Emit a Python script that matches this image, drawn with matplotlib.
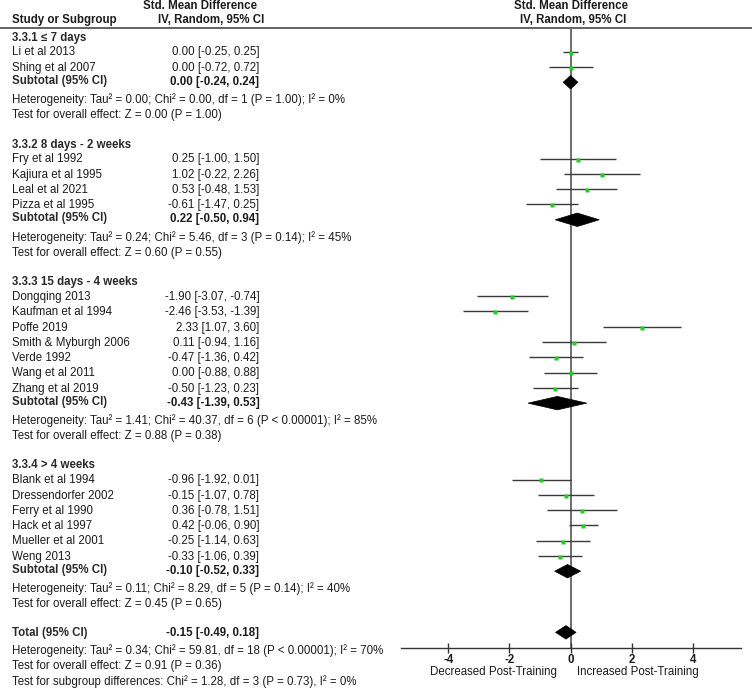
import matplotlib
matplotlib.use("Agg")
import matplotlib.pyplot as plt
from matplotlib.patches import Polygon

plt.rcParams['font.family'] = ['Liberation Sans', 'DejaVu Sans']

# ---------------- data ----------------
group_titles = ["3.3.1 \u2264 7 days", "3.3.2 8 days - 2 weeks",
                "3.3.3 15 days - 4 weeks", "3.3.4 > 4 weeks"]

g1_studies = ["Li et al 2013", "Shing et al 2007"]
g1_smd = [0.00, 0.00]
g1_lo = [-0.25, -0.72]
g1_hi = [0.25, 0.72]

g2_studies = ["Fry et al 1992", "Kajiura et al 1995", "Leal et al 2021", "Pizza et al 1995"]
g2_smd = [0.25, 1.02, 0.53, -0.61]
g2_lo = [-1.00, -0.22, -0.48, -1.47]
g2_hi = [1.50, 2.26, 1.53, 0.25]

g3_studies = ["Dongqing 2013", "Kaufman et al 1994", "Poffe 2019", "Smith & Myburgh 2006",
              "Verde 1992", "Wang et al 2011", "Zhang et al 2019"]
g3_smd = [-1.90, -2.46, 2.33, 0.11, -0.47, 0.00, -0.50]
g3_lo = [-3.07, -3.53, 1.07, -0.94, -1.36, -0.88, -1.23]
g3_hi = [-0.74, -1.39, 3.60, 1.16, 0.42, 0.88, 0.23]

g4_studies = ["Blank et al 1994", "Dressendorfer 2002", "Ferry et al 1990", "Hack et al 1997",
              "Mueller et al 2001", "Weng 2013"]
g4_smd = [-0.96, -0.15, 0.36, 0.42, -0.25, -0.33]
g4_lo = [-1.92, -1.07, -0.78, -0.06, -1.14, -1.06]
g4_hi = [0.01, 0.78, 1.51, 0.90, 0.63, 0.39]

sub_smd = [0.00, 0.22, -0.43, -0.10]
sub_lo = [-0.24, -0.50, -1.39, -0.52]
sub_hi = [0.24, 0.94, 0.53, 0.33]

heterogeneity = [
    "Heterogeneity: Tau\u00b2 = 0.00; Chi\u00b2 = 0.00, df = 1 (P = 1.00); I\u00b2 = 0%",
    "Heterogeneity: Tau\u00b2 = 0.24; Chi\u00b2 = 5.46, df = 3 (P = 0.14); I\u00b2 = 45%",
    "Heterogeneity: Tau\u00b2 = 1.41; Chi\u00b2 = 40.37, df = 6 (P < 0.00001); I\u00b2 = 85%",
    "Heterogeneity: Tau\u00b2 = 0.11; Chi\u00b2 = 8.29, df = 5 (P = 0.14); I\u00b2 = 40%",
]
overall = [
    "Test for overall effect: Z = 0.00 (P = 1.00)",
    "Test for overall effect: Z = 0.60 (P = 0.55)",
    "Test for overall effect: Z = 0.88 (P = 0.38)",
    "Test for overall effect: Z = 0.45 (P = 0.65)",
]

total_smd = -0.15
total_lo = -0.49
total_hi = 0.18
total_texts = [
    "Heterogeneity: Tau\u00b2 = 0.34; Chi\u00b2 = 59.81, df = 18 (P < 0.00001); I\u00b2 = 70%",
    "Test for overall effect: Z = 0.91 (P = 0.36)",
    "Test for subgroup differences: Chi\u00b2 = 1.28, df = 3 (P = 0.73), I\u00b2 = 0%",
]

xticks = [-4, -2, 0, 2, 4]
left_label = "Decreased Post-Training"
right_label = "Increased Post-Training"

groups = [
    (g1_studies, g1_smd, g1_lo, g1_hi),
    (g2_studies, g2_smd, g2_lo, g2_hi),
    (g3_studies, g3_smd, g3_lo, g3_hi),
    (g4_studies, g4_smd, g4_lo, g4_hi),
]

# ---------------- layout ----------------
W, H = 754, 688
ROW0, STEP = 51.7, 15.28          # pixel position of first study row, row pitch
def row_of(px):
    return (px - ROW0) / STEP

ytop, ybot = row_of(0), row_of(H)
FS = 8.3
TXT = '#1c1c1c'
NAME_X = 12
VAL_X = 259.5

fig = plt.figure(figsize=(W / 100, H / 100), dpi=100)
ax_t = fig.add_axes([0, 0, 1, 1])
ax_t.set_xlim(0, W)
ax_t.set_ylim(ybot, ytop)
ax_t.axis('off')

ax_f = fig.add_axes([400.7 / W, 0, (741 - 400.7) / W, 1])
ax_f.set_xlim(-5.55, 5.57)
ax_f.set_ylim(ybot, ytop)
ax_f.patch.set_alpha(0)
for s in ['top', 'left', 'right']:
    ax_f.spines[s].set_visible(False)
axis_row = row_of(647.7)
ax_f.spines['bottom'].set_position(('data', axis_row))
ax_f.spines['bottom'].set_color('#333333')
ax_f.spines['bottom'].set_linewidth(1.0)
ax_f.set_yticks([])
ax_f.set_xticks(xticks)
ax_f.set_xticklabels([str(t) for t in xticks], fontweight='bold', fontsize=FS, color=TXT)
ax_f.tick_params(axis='x', direction='inout', length=7, width=1.0, color='#333333', pad=1.0)

# headers
header_row = row_of(28)
ax_t.hlines(header_row, 0, 752, color='#555555', lw=1.3)
ax_t.text(200, row_of(6), "Std. Mean Difference", ha='center', va='center', fontsize=FS,
          fontweight='bold', color=TXT)
ax_t.text(NAME_X, row_of(20.5), "Study or Subgroup", ha='left', va='center', fontsize=FS,
          fontweight='bold', color=TXT)
ax_t.text(211, row_of(20.5), "IV, Random, 95% CI", ha='center', va='center', fontsize=FS,
          fontweight='bold', color=TXT)
ax_f.text(0.03, row_of(6), "Std. Mean Difference", ha='center', va='center', fontsize=FS,
          fontweight='bold', color=TXT)
ax_f.text(0.08, row_of(20.5), "IV, Random, 95% CI", ha='center', va='center', fontsize=FS,
          fontweight='bold', color=TXT)

# zero line
ax_f.vlines(0, header_row, axis_row, color='#6e6e6e', lw=1.4, zorder=1)

def fmt(v, lo, hi):
    return f"{v:.2f} [{lo:.2f}, {hi:.2f}]"

def diamond(ax, r, v, lo, hi, h=0.44):
    ax.add_patch(Polygon([[lo, r], [v, r - h], [hi, r], [v, r + h]], closed=True,
                         facecolor='black', edgecolor='black', lw=0.5, zorder=4))

r = -1
for gi, (names, smd, lo, hi) in enumerate(groups):
    ax_t.text(NAME_X, r + 0.08, group_titles[gi], ha='left', va='center', fontsize=FS,
              fontweight='bold', color='#2a2a2a')
    r += 1
    for n, v, l, h in zip(names, smd, lo, hi):
        ax_t.text(NAME_X, r + 0.05, n, ha='left', va='center', fontsize=FS, color=TXT)
        ax_t.text(VAL_X, r + 0.05, fmt(v, l, h), ha='right', va='center', fontsize=FS, color=TXT)
        ax_f.hlines(r, l, h, color='#3a3a3a', lw=1.0, zorder=2)
        ax_f.plot([v], [r + 0.06], marker='s', ms=2.6, color='#1fd01f', mec='none', zorder=3)
        r += 1
    ax_t.text(NAME_X, r - 0.1, "Subtotal (95% CI)", ha='left', va='center', fontsize=FS,
              fontweight='bold', color='#2a2a2a')
    ax_t.text(VAL_X, r - 0.02, fmt(sub_smd[gi], sub_lo[gi], sub_hi[gi]), ha='right', va='center',
              fontsize=FS, fontweight='bold', color=TXT)
    diamond(ax_f, r, sub_smd[gi], sub_lo[gi], sub_hi[gi])
    r += 1
    ax_t.text(NAME_X, r + 0.15, heterogeneity[gi], ha='left', va='center', fontsize=FS, color=TXT)
    r += 1
    ax_t.text(NAME_X, r + 0.15, overall[gi], ha='left', va='center', fontsize=FS, color=TXT)
    r += 2

ax_t.text(NAME_X, r + 0.05, "Total (95% CI)", ha='left', va='center', fontsize=FS,
          fontweight='bold', color='#2a2a2a')
ax_t.text(VAL_X, r + 0.05, fmt(total_smd, total_lo, total_hi), ha='right', va='center',
          fontsize=FS, fontweight='bold', color=TXT)
diamond(ax_f, r, total_smd, total_lo, total_hi)
for t in total_texts:
    r += 1
    ax_t.text(NAME_X, r + 0.2, t, ha='left', va='center', fontsize=FS, color=TXT)

lab_row = row_of(672)
ax_f.text(-0.45, lab_row, left_label, ha='right', va='center', fontsize=FS, color=TXT)
ax_f.text(0.2, lab_row, right_label, ha='left', va='center', fontsize=FS, color=TXT)

fig.savefig("out.png", dpi=100)
